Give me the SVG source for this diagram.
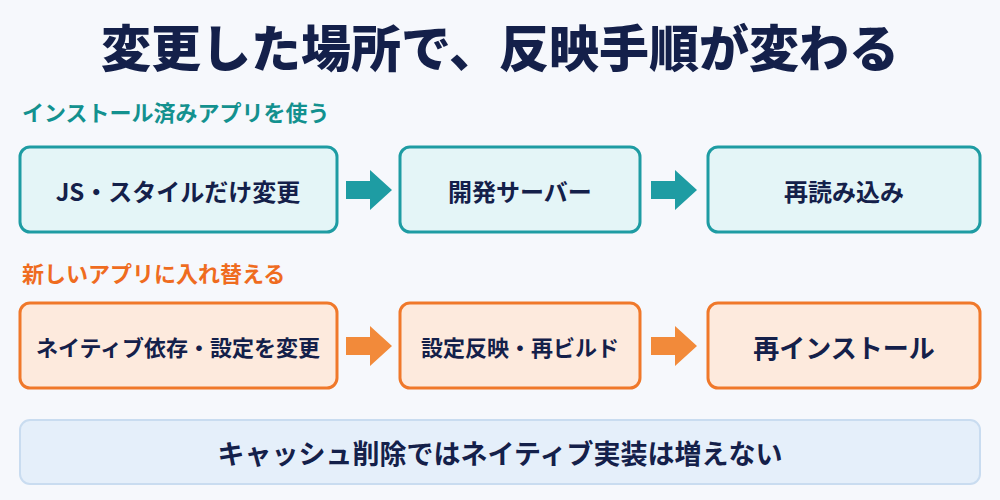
<svg xmlns="http://www.w3.org/2000/svg" width="1000" height="500" viewBox="0 0 1000 500">
<defs><style>
text{font-family:"Noto Sans CJK JP","Noto Sans",sans-serif;font-weight:bold;}
.t{fill:#14204a;font-size:24px;text-anchor:middle;dominant-baseline:central}
.a{fill:#e4f5f7;stroke:#1e9ca3;stroke-width:3}
.b{fill:#fdeadd;stroke:#f0782a;stroke-width:3}
</style></defs>
<rect width="1000" height="500" fill="#f6f8fc"/>
<text x="500" y="45" class="t" style="font-size:50px;font-weight:900">変更した場所で、反映手順が変わる</text>
<text x="22" y="121" style="font-size:22px;fill:#13918f">インストール済みアプリを使う</text>
<text x="22" y="282" style="font-size:22px;fill:#ef6c1f">新しいアプリに入れ替える</text>
<g id="n1"><rect class="a" x="20" y="147" width="317" height="85" rx="10"/><text class="t" x="178" y="190">JS・スタイルだけ変更</text></g>
<g id="n2"><rect class="a" x="400" y="147" width="240" height="85" rx="10"/><text class="t" x="520" y="190">開発サーバー</text></g>
<g id="n3"><rect class="a" x="708" y="147" width="272" height="85" rx="10"/><text class="t" x="844" y="190">再読み込み</text></g>
<g id="n4"><rect class="b" x="20" y="303" width="317" height="85" rx="10"/><text class="t" x="178" y="346" style="font-size:22px">ネイティブ依存・設定を変更</text></g>
<g id="n5"><rect class="b" x="400" y="303" width="240" height="85" rx="10"/><text class="t" x="520" y="346" style="font-size:22px">設定反映・再ビルド</text></g>
<g id="n6"><rect class="b" x="708" y="303" width="272" height="85" rx="10"/><text class="t" x="844" y="346" style="font-size:26px">再インストール</text></g>
<g id="n7"><rect x="20" y="420" width="960" height="64" rx="10" fill="#e5effa" stroke="#c9dcf0" stroke-width="2"/><text class="t" x="500" y="452" style="font-size:27px">キャッシュ削除ではネイティブ実装は増えない</text></g>
<g id="connectors">
<polygon fill="#1e9ca3" points="346,181 370,181 370,170 392,190 370,210 370,199 346,199"/>
<polygon fill="#1e9ca3" points="651,181 675,181 675,170 697,190 675,210 675,199 651,199"/>
<polygon fill="#f28a3a" points="346,337 370,337 370,326 392,346 370,366 370,355 346,355"/>
<polygon fill="#f28a3a" points="651,337 675,337 675,326 697,346 675,366 675,355 651,355"/>
</g>
</svg>
